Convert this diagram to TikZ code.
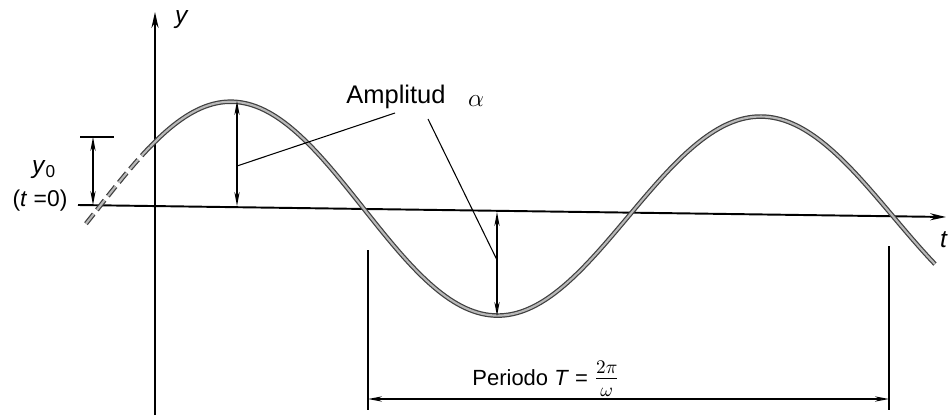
\documentclass[tikz,border=0pt]{standalone}
\usepackage{fontspec}
\setmainfont{Liberation Sans}
\usetikzlibrary{arrows.meta}
\tikzset{
  axis/.style={line width=1.1pt,-{Stealth[length=9pt,width=4pt]}},
  wave/.style={draw=black!75,double=gray!55,double distance=1.2pt,line width=0.7pt},
  dim/.style={line width=0.6pt,{Stealth[length=8pt,width=3pt,open]}-{Stealth[length=8pt,width=3pt,open]}},
  leader/.style={line width=0.6pt},
  lbl/.style={inner sep=1pt,font=\fontsize{12.5}{14}\selectfont}
}
\begin{document}
\begin{tikzpicture}[x=0.02cm,y=-0.02cm]
  \useasboundingbox (0,0) rectangle (950,416);

  % ejes
  \coordinate (o) at (78,205);
  \coordinate (tend) at (946,217);
  \coordinate (ybot) at (155,415);
  \coordinate (ytop) at (155,12);
  \draw[axis] (o) -- (tend);
  \draw[axis] (ybot) -- (ytop);
  \node[lbl,font=\fontsize{14}{16}\selectfont] (ylab) at (182,20) {\textit{y}};
  \node[lbl,anchor=east,font=\fontsize{14}{16}\selectfont] (tlab) at (950,240) {\textit{t}};

  % curva
  \draw[wave,dash pattern=on 7pt off 3pt] plot[domain=86:150,samples=30]
    (\x,{206+0.016*(\x-100)-(108-0.012*(\x-100))*sin(0.67925*(\x-100))});
  \draw[wave] plot[domain=150:935,samples=200]
    (\x,{206+0.016*(\x-100)-(108-0.012*(\x-100))*sin(0.67925*(\x-100))});

  % y0
  \coordinate (y0top) at (93,137);
  \coordinate (y0bot) at (93,205);
  \coordinate (tickl) at (80,137);
  \coordinate (tickr) at (114,137);
  \draw[leader] (tickl) -- (tickr);
  \draw[dim] (y0bot) -- (y0top);
  \node[lbl,font=\fontsize{14}{16}\selectfont] (y0) at (44,170) {\textit{y}\textsubscript{0}};
  \node[lbl,font=\fontsize{13}{15}\selectfont] (t0) at (40,201) {(\textit{t} =0)};

  % amplitudes
  \coordinate (a1top) at (237,101);
  \coordinate (a1bot) at (237,206);
  \coordinate (a2top) at (497,212);
  \coordinate (a2bot) at (497,316);
  \draw[dim] (a1bot) -- (a1top);
  \draw[dim] (a2top) -- (a2bot);
  \node[lbl,font=\fontsize{14.5}{16}\selectfont] (amp) at (396,97) {Amplitud};
  \node[lbl,font=\fontsize{15}{16}\selectfont] (alpha) at (476,101) {$\alpha$};
  \coordinate (l1) at (237,166);
  \coordinate (l1e) at (395,113);
  \coordinate (l2) at (428,119);
  \coordinate (l2e) at (497,260);
  \draw[leader] (l1) -- (l1e);
  \draw[leader] (l2) -- (l2e);

  % periodo
  \coordinate (p1top) at (368,250);
  \coordinate (p1bot) at (368,410);
  \coordinate (p2top) at (889,246);
  \coordinate (p2bot) at (889,410);
  \coordinate (p1) at (368,399);
  \coordinate (p2) at (889,399);
  \draw[leader] (p1top) -- (p1bot);
  \draw[leader] (p2top) -- (p2bot);
  \draw[dim] (p1) -- (p2);
  \node[lbl] (per) at (546,379) {Periodo \textit{T} = {\fontsize{16}{18}\selectfont$\frac{2\pi}{\omega}$}};
\end{tikzpicture}
\end{document}
